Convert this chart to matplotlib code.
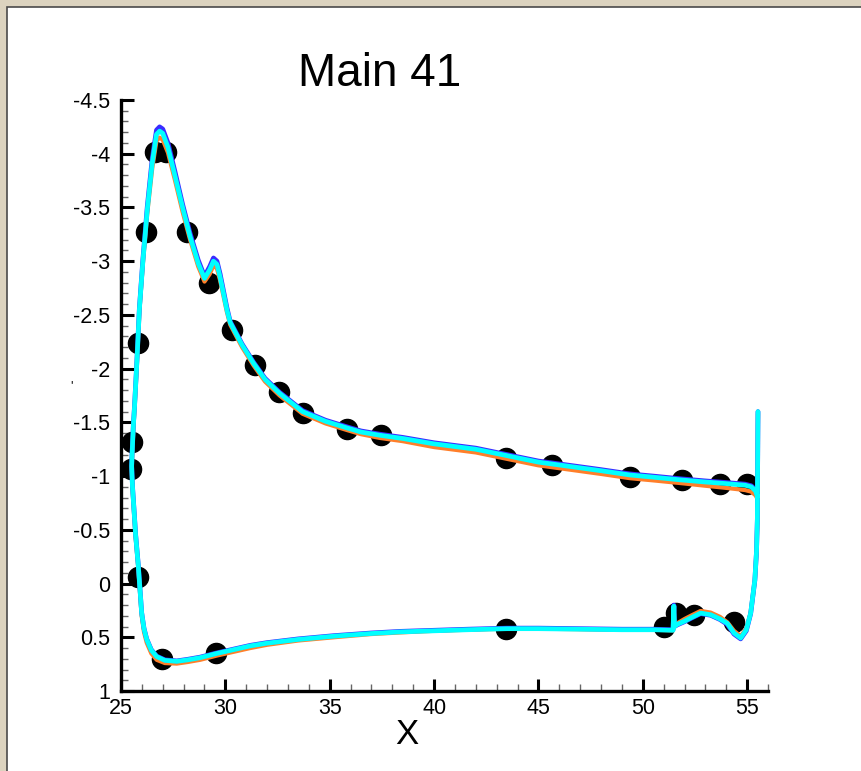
import numpy as np
import matplotlib
matplotlib.use("Agg")
import matplotlib.pyplot as plt
from matplotlib.patches import Rectangle
from matplotlib.ticker import MultipleLocator

plt.rcParams['font.family'] = ['Liberation Sans', 'DejaVu Sans']

# Upper surface (trailing edge -> leading edge)
x_up = [55.49, 55.41, 55.20, 54.90, 54.00, 53.00, 51.80, 50.50, 49.40, 48.00,
        46.50, 45.00, 43.50, 42.00, 40.00, 38.50, 37.40, 36.50, 35.80, 34.80,
        33.70, 32.60, 31.90, 31.35, 30.80, 30.23, 30.07, 29.75, 29.60, 29.43,
        29.25, 29.00, 28.70, 28.31, 27.95, 27.59, 27.25, 27.00, 26.85, 26.70,
        26.50, 26.26, 26.05, 25.88, 25.75, 25.65, 25.59, 25.53, 25.51]
cp_up_cyan = [-0.81, -0.86, -0.90, -0.915, -0.93, -0.945, -0.965, -0.99, -1.01, -1.05,
              -1.09, -1.13, -1.19, -1.25, -1.30, -1.35, -1.38, -1.41, -1.45, -1.51,
              -1.60, -1.77, -1.90, -2.05, -2.22, -2.43, -2.55, -2.85, -2.97, -3.00,
              -2.92, -2.84, -2.98, -3.23, -3.50, -3.79, -4.06, -4.19, -4.21, -4.18,
              -3.92, -3.48, -3.00, -2.55, -2.02, -1.65, -1.46, -1.20, -1.09]
cp_up_orange = [-0.79, -0.82, -0.855, -0.87, -0.89, -0.91, -0.935, -0.96, -0.98, -1.02,
                -1.06, -1.10, -1.16, -1.22, -1.27, -1.325, -1.355, -1.39, -1.43, -1.49,
                -1.58, -1.75, -1.88, -2.03, -2.20, -2.41, -2.53, -2.82, -2.93, -2.96,
                -2.88, -2.81, -2.95, -3.20, -3.46, -3.75, -4.01, -4.13, -4.15, -4.12,
                -3.87, -3.45, -2.98, -2.53, -2.00, -1.63, -1.43, -1.17, -1.06]
cp_up_blue = [-0.82, -0.87, -0.91, -0.925, -0.94, -0.955, -0.975, -1.00, -1.02, -1.06,
              -1.10, -1.14, -1.20, -1.26, -1.31, -1.36, -1.39, -1.42, -1.46, -1.52,
              -1.61, -1.78, -1.91, -2.06, -2.23, -2.44, -2.57, -2.88, -3.00, -3.03,
              -2.95, -2.86, -3.01, -3.26, -3.53, -3.83, -4.10, -4.23, -4.25, -4.22,
              -3.96, -3.51, -3.02, -2.56, -2.03, -1.66, -1.47, -1.21, -1.10]

# Lower surface (leading edge -> trailing edge, then trailing edge base)
x_lo = [25.51, 25.55, 25.59, 25.70, 25.83, 25.99, 26.10, 26.23, 26.45, 26.71,
        27.10, 27.67, 28.20, 28.79, 29.60, 30.40, 31.20, 32.00, 33.50, 35.20,
        37.00, 38.40, 40.00, 41.60, 43.50, 45.00, 47.00, 49.00, 50.50, 51.45,
        51.49, 51.52, 51.65, 52.00, 52.30, 52.77, 53.25, 53.70, 54.05, 54.37,
        54.69, 54.96, 55.17, 55.37, 55.45, 55.49, 55.50, 55.52]
cp_lo_cyan = [-1.09, -0.90, -0.78, -0.45, -0.16, 0.275, 0.42, 0.52, 0.62, 0.68,
              0.715, 0.724, 0.71, 0.69, 0.65, 0.615, 0.58, 0.555, 0.52, 0.49,
              0.465, 0.45, 0.44, 0.43, 0.42, 0.42, 0.425, 0.43, 0.43, 0.435,
              0.21, 0.40, 0.38, 0.35, 0.32, 0.275, 0.29, 0.33, 0.37, 0.46,
              0.507, 0.43, 0.275, -0.035, -0.30, -0.60, -1.00, -1.60]
cp_lo_orange = [-1.06, -0.88, -0.76, -0.43, -0.14, 0.30, 0.45, 0.55, 0.65, 0.71,
                0.74, 0.745, 0.73, 0.71, 0.67, 0.635, 0.60, 0.57, 0.53, 0.50,
                0.47, 0.455, 0.44, 0.43, 0.42, 0.42, 0.425, 0.43, 0.43, 0.435,
                0.22, 0.40, 0.37, 0.33, 0.30, 0.255, 0.27, 0.31, 0.36, 0.44,
                0.49, 0.42, 0.27, -0.03, -0.30, -0.60, -1.00, -1.58]
cp_lo_blue = [-1.10, -0.91, -0.79, -0.46, -0.17, 0.27, 0.415, 0.515, 0.615, 0.675,
              0.71, 0.72, 0.705, 0.685, 0.645, 0.61, 0.575, 0.55, 0.515, 0.485,
              0.46, 0.445, 0.435, 0.425, 0.415, 0.415, 0.42, 0.425, 0.425, 0.43,
              0.20, 0.40, 0.385, 0.355, 0.325, 0.28, 0.295, 0.335, 0.38, 0.47,
              0.515, 0.44, 0.28, -0.03, -0.30, -0.60, -1.00, -1.60]

# Experiment
x_exp = [27.16, 26.63, 26.20, 25.80, 25.54, 25.48, 25.83, 26.95, 29.56, 43.46,
         51.01, 51.57, 52.45, 54.37, 28.18, 29.22, 30.31, 31.43, 32.59, 33.71,
         35.82, 37.45, 43.47, 45.66, 49.38, 51.86, 53.70, 54.98]
cp_exp = [-4.02, -4.02, -3.27, -2.24, -1.32, -1.07, -0.06, 0.70, 0.65, 0.42,
          0.40, 0.275, 0.29, 0.36, -3.27, -2.80, -2.36, -2.03, -1.78, -1.59,
          -1.44, -1.38, -1.17, -1.10, -0.996, -0.965, -0.93, -0.93]

x_ticks = [25, 30, 35, 40, 45, 50, 55]
y_ticks = [-4.5, -4, -3.5, -3, -2.5, -2, -1.5, -1, -0.5, 0, 0.5, 1]
y_tick_labels = ['-4.5', '-4', '-3.5', '-3', '-2.5', '-2', '-1.5', '-1', '-0.5', '0', '0.5', '1']

fig = plt.figure(figsize=(8.62, 7.71), dpi=100, facecolor='#dcd3bf')
fig.patches.append(Rectangle((7 / 862, -0.05), 1.0, 1 - 7 / 771 + 0.05,
                             transform=fig.transFigure, facecolor='white',
                             edgecolor='#4a4a4a', lw=1.2, zorder=-10))

ax = fig.add_axes([121 / 862, 1 - 691 / 771, 647 / 862, 591 / 771])
ax.set_facecolor('white')

x_cfd = np.concatenate([x_up, x_lo])
ax.plot(x_cfd, np.concatenate([cp_up_orange, cp_lo_orange]), color='#ff7f2a', lw=3.0,
        solid_capstyle='round', zorder=3)
ax.plot(x_cfd, np.concatenate([cp_up_blue, cp_lo_blue]), color='#3a2cff', lw=3.4,
        solid_capstyle='round', zorder=4)
ax.plot(x_cfd, np.concatenate([cp_up_cyan, cp_lo_cyan]), color='#00ffff', lw=3.4,
        solid_capstyle='round', zorder=5)
ax.plot(x_exp, cp_exp, 'o', color='black', ms=14.5, zorder=2)

ax.set_xlim(25, 56)
ax.set_ylim(1, -4.5)
ax.set_xticks(x_ticks)
ax.set_yticks(y_ticks)
ax.set_yticklabels(y_tick_labels)
ax.xaxis.set_minor_locator(MultipleLocator(1))
ax.yaxis.set_minor_locator(MultipleLocator(0.1))

for s in ['top', 'right']:
    ax.spines[s].set_visible(False)
for s in ['left', 'bottom']:
    ax.spines[s].set_linewidth(2.4)

ax.tick_params(which='major', direction='in', length=9, width=2.2, color='black',
               labelsize=15.5)
ax.tick_params(which='minor', direction='in', length=5, width=1, color='#666666')
ax.tick_params(axis='y', which='major', pad=8)
ax.tick_params(axis='x', which='major', pad=5)

fig.text(380 / 862, 1 - 86 / 771, 'Main 41', fontsize=33, ha='center', va='baseline')
fig.text(407 / 862, 1 - 744 / 771, 'X', fontsize=25, ha='center', va='baseline')
fig.text(72 / 862, 1 - 386 / 771, "'", fontsize=9, ha='center', va='center')

fig.savefig('out.png', dpi=100, facecolor=fig.get_facecolor())
